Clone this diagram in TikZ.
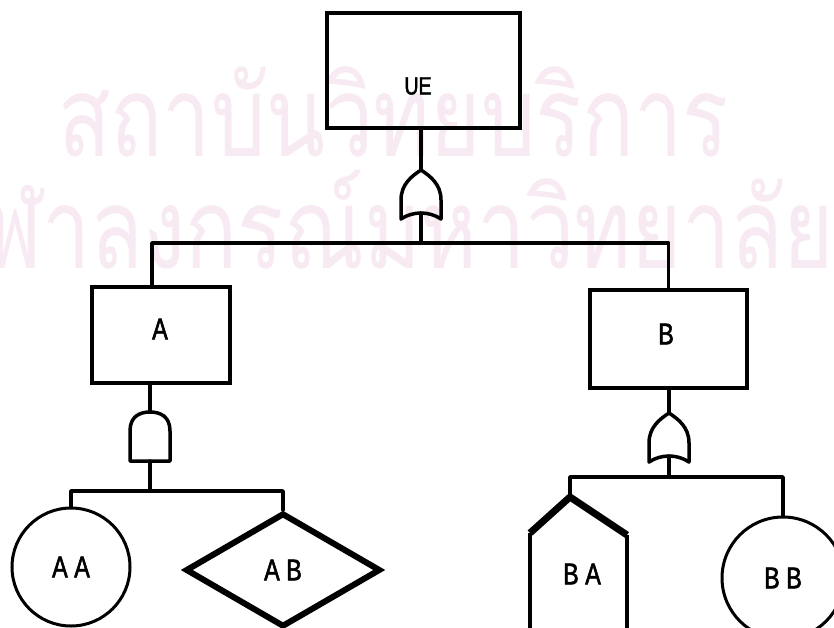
\documentclass[tikz,border=0pt]{standalone}
\usepackage{fontspec}
\setmainfont{Liberation Sans}[FakeStretch=0.78, FakeBold=1.8]
\newfontfamily\thaifont[Script=Thai, FakeStretch=0.77]{Loma}
\usetikzlibrary{shapes.geometric}
\definecolor{stamp}{RGB}{248,234,242}
\tikzset{
  wire/.style={line width=3.5pt, line cap=round, line join=round},
  gate/.style={line width=3.5pt, line join=round},
  event/.style={draw, line width=3.8pt, rectangle, inner sep=0pt},
  basic/.style={draw, line width=3pt, circle, inner sep=0pt},
  undeveloped/.style={draw, line width=6pt, diamond, inner sep=0pt},
  lbl/.style={font=\fontsize{30}{30}\selectfont, inner sep=0pt},
  watermark/.style={text=stamp, inner sep=0pt, font=\thaifont\fontsize{112}{112}\selectfont},
  orgate/.pic={
    \draw[gate] (0,0) .. controls (9,6) and (20,14) .. (20,30) -- (20,49)
      .. controls (8,41) and (-8,41) .. (-20,49) -- (-20,30)
      .. controls (-20,14) and (-9,6) .. (0,0) -- cycle;
    \coordinate (-top) at (0,0);
    \coordinate (-bot) at (0,43);
  },
  andgate/.pic={
    \draw[gate] (-20,49) -- (-20,19) .. controls (-20,5) and (-11,0) .. (0,0)
      .. controls (11,0) and (20,5) .. (20,19) -- (20,49) -- cycle;
    \coordinate (-top) at (0,0);
    \coordinate (-bot) at (0,49);
  },
}
\begin{document}
\begin{tikzpicture}[x=1pt, y=-1pt]
  \useasboundingbox (0,0) rectangle (834,628);
  \clip (0,0) rectangle (834,628);
  \fill[white] (0,0) rectangle (834,628);

  % background stamp text
  \node[watermark, anchor=base west] (wm1) at (58,157) {สถาบันวิทยบริการ};
  \node[watermark, anchor=base east] (wm2) at (834,268) {จุฬาลงกรณ์มหาวิทยาลัย};

  % top event
  \node[event, minimum width=193pt, minimum height=115pt] (ue) at (423.5,70.5) {};
  \node[lbl, font=\fontsize{25}{25}\selectfont] (ue-l) at (418,86) {UE};
  \pic (g1) at (421,170) {orgate};

  % intermediate events
  \node[event, minimum width=138pt, minimum height=96pt] (a) at (161,335) {};
  \node[lbl] (a-l) at (160,329) {A};
  \node[event, minimum width=157pt, minimum height=98pt] (b) at (668.5,339) {};
  \node[lbl] (b-l) at (666,334) {B};
  \pic (g2) at (150,412) {andgate};
  \pic (g3) at (669,413) {orgate};

  % basic and undeveloped events
  \node[basic, lbl, minimum size=118pt] (aa) at (71,567) {A A};
  \node[undeveloped, lbl, minimum width=195pt, minimum height=114pt] (ab) at (283,570) {A B};
  \node[basic, lbl, minimum size=122pt] (bb) at (783,578) {B B};

  % house event
  \draw[line width=4.5pt] (530,533) -- (530,650);
  \draw[line width=4.5pt] (627,535) -- (627,650);
  \draw[line width=7pt, line join=round] (530,533) -- (570,497) -- (627,535);
  \coordinate (ba-top) at (570,497);
  \node[lbl] (ba) at (582,574) {B A};

  % junctions
  \coordinate (j1) at (421,243);
  \coordinate (j2) at (150,491);
  \coordinate (j3) at (669,477);

  % connectors
  \draw[wire] (g1-top |- ue.south) -- (g1-top);
  \draw[wire] (g1-bot) -- (j1);
  \draw[wire] ([xshift=-9pt]a.north) |- (j1) -| (b.north);

  \draw[wire] (g2-top |- a.south) -- (g2-top);
  \draw[wire] (g2-bot) -- (j2);
  \draw[wire] (aa.north) |- (j2) -| (ab.north);

  \draw[wire] (g3-top |- b.south) -- (g3-top);
  \draw[wire] (g3-bot) -- (j3);
  \draw[wire] (ba-top) |- (j3) -| (bb.north);
\end{tikzpicture}
\end{document}
